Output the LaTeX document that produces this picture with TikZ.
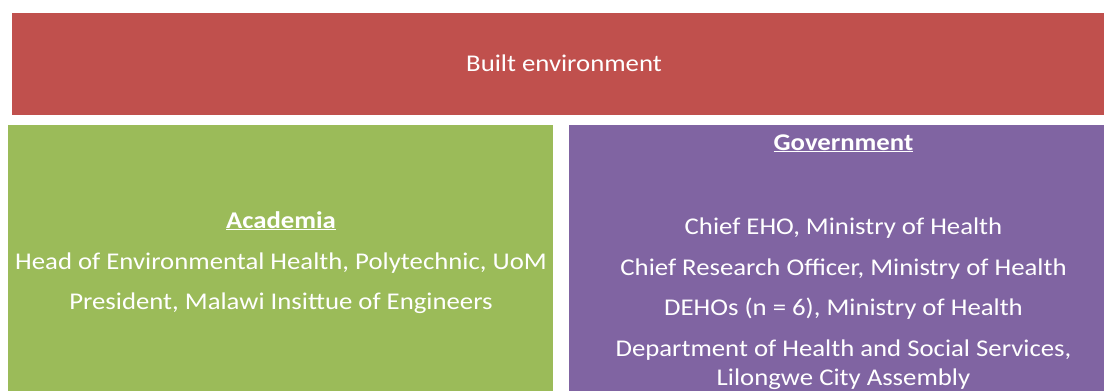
\documentclass[tikz,border=0pt]{standalone}
\usepackage{fontspec}
\setmainfont{Carlito}[FakeStretch=1.115]
\definecolor{boxred}{HTML}{C0504D}
\definecolor{boxgreen}{HTML}{9BBB59}
\definecolor{boxpurple}{HTML}{8064A2}
\tikzset{
  panel/.style={inner sep=0pt, outer sep=0pt},
  txt/.style={text=white, inner sep=0pt, anchor=base, font=\fontsize{24}{28}\selectfont},
  head/.style={txt, font=\fontsize{24}{28}\selectfont\bfseries},
}
\newcommand{\ulhead}[1]{\underline{#1}}
\begin{document}
\begin{tikzpicture}[x=1pt,y=-1pt]
\useasboundingbox (0,0) rectangle (1104,391);
\fill[boxred] (11.5,13) rectangle (1104,115);
\fill[boxgreen] (8,125) rectangle (553,391);
\fill[boxpurple] (569,125) rectangle (1104,391);
\node[panel] (red) at (557.75,64) {};
\node[panel] (green) at (280.5,258) {};
\node[panel] (purple) at (836.5,258) {};
\node[txt] (built) at (564,71) {Built environment};
\node[head] (acad) at (281,228) {\ulhead{Academia}};
\node[txt] (a1) at (281,269) {Head of Environmental Health, Polytechnic, UoM};
\node[txt] (a2) at (281,309) {President, Malawi Insittue of Engineers};
\node[head] (gov) at (843.5,150) {\ulhead{Government}};
\node[txt] (g1) at (843.5,234) {Chief EHO, Ministry of Health};
\node[txt] (g2) at (843.5,275) {Chief Research Officer, Ministry of Health};
\node[txt] (g3) at (843.5,315) {DEHOs (n = 6), Ministry of Health};
\node[txt] (g4) at (843.5,356) {Department of Health and Social Services,};
\node[txt] (g5) at (843.5,385) {Lilongwe City Assembly};
\end{tikzpicture}
\end{document}
